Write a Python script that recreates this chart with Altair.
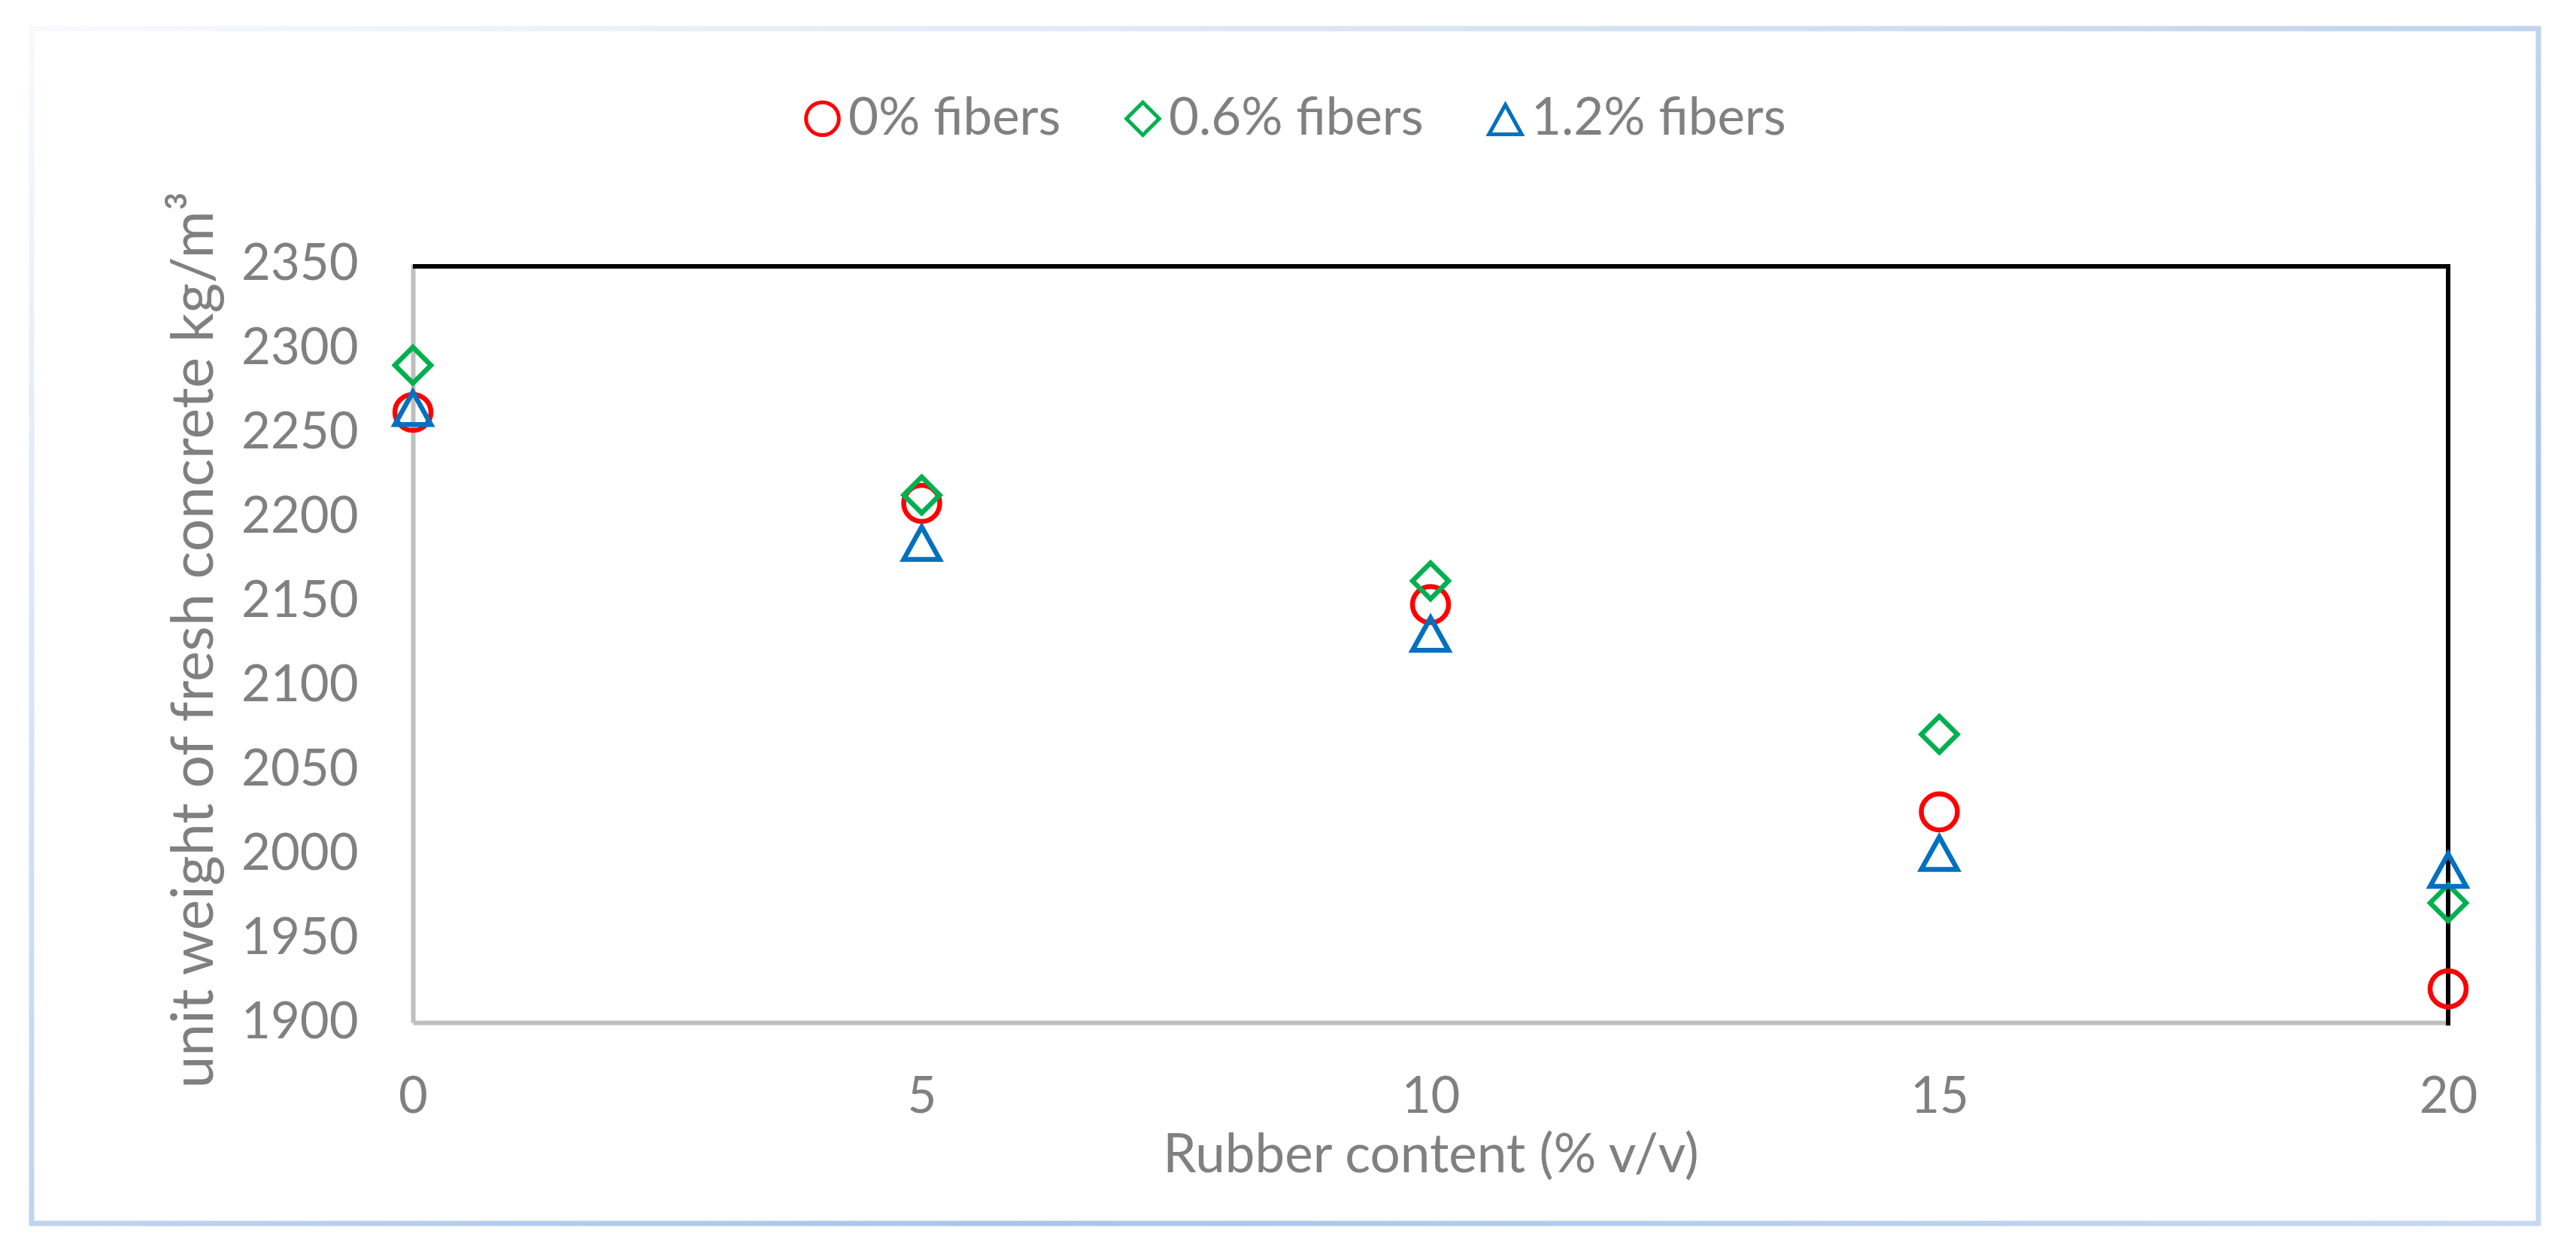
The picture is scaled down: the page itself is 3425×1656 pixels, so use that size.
import altair as alt
import pandas as pd

# ---- data ----
rubber = [0, 5, 10, 15, 20]
series = ["0% fibers", "0.6% fibers", "1.2% fibers"]
w_0 = [2262, 2208, 2148, 2025, 1920]
w_06 = [2290, 2213, 2162, 2071, 1971]
w_12 = [2265, 2185, 2131, 2001, 1991]
y_ticks = [1900, 1950, 2000, 2050, 2100, 2150, 2200, 2250, 2300, 2350]
x_ticks = [0, 5, 10, 15, 20]
colors = ["#FF0000", "#00B050", "#0070C0"]
shapes = ["circle", "diamond", "M0,-0.85L1,0.95L-1,0.95Z"]

rows = []
for name, vals in zip(series, [w_0, w_06, w_12]):
    for xv, yv in zip(rubber, vals):
        rows.append({"rubber": xv, "weight": yv, "series": name})
df = pd.DataFrame(rows)
one = pd.DataFrame({"k": [0]})

W, H = 2706, 1008
FONT = "Lato"
GRAY = "#808080"
FS = 67
TFS = 71

border_grad = alt.LinearGradient(
    gradient="linear",
    stops=[
        alt.GradientStop(color="#f7f9fd", offset=0),
        alt.GradientStop(color="#a9c5e9", offset=0.7),
        alt.GradientStop(color="#c6d9f1", offset=1),
    ],
    x1=0, y1=0, x2=1, y2=1,
)

frame = alt.Chart(one).mark_rect(fill="transparent", stroke=border_grad, strokeWidth=7).encode(
    x=alt.value(-507), x2=alt.value(2826), y=alt.value(-313), y2=alt.value(1275)
)

top_rule = alt.Chart(one).mark_rule(color="black", strokeWidth=6).encode(
    x=alt.value(0), x2=alt.value(W), y=alt.value(3)
)
right_rule = alt.Chart(one).mark_rule(color="black", strokeWidth=6).encode(
    x=alt.value(W), y=alt.value(0), y2=alt.value(H + 4)
)

leg = dict(
    title=None, orient="none", direction="horizontal",
    legendX=510, legendY=-228, padding=0,
    labelFont=FONT, labelFontSize=69, labelColor=GRAY, labelOffset=0, labelLimit=1000,
    symbolSize=1900, symbolStrokeWidth=5, columnPadding=74,
)

points = alt.Chart(df).mark_point(filled=False, size=2300, strokeWidth=6.5, opacity=1).encode(
    x=alt.X("rubber:Q", scale=alt.Scale(domain=[0, 20], nice=False),
            axis=alt.Axis(values=x_ticks, title="Rubber content (% v/v)", format="d",
                          labelBaseline="alphabetic", labelPadding=119, labelFlush=False,
                          titleBaseline="alphabetic", titleX=W / 2, titleY=198,
                          titleAlign="center", titleFontSize=TFS)),
    y=alt.Y("weight:Q", scale=alt.Scale(domain=[1900, 2350], nice=False, zero=False),
            axis=alt.Axis(values=y_ticks, title="unit weight of fresh concrete kg/m³", format="d",
                          labelPadding=73, labelBaseline="middle", labelFlush=False,
                          titleAngle=270, titleBaseline="alphabetic", titleFontSize=77,
                          titleX=-267, titleY=499, titleAlign="center")),
    color=alt.Color("series:N", scale=alt.Scale(domain=series, range=colors),
                    legend=alt.Legend(**leg)),
    shape=alt.Shape("series:N", scale=alt.Scale(domain=series, range=shapes),
                    legend=alt.Legend(**leg)),
)

chart = alt.layer(frame, top_rule, right_rule, points).properties(
    width=W, height=H,
    autosize=alt.AutoSizeParams(type="none"),
    padding={"left": 541, "top": 343, "right": 162, "bottom": 289},
    background="white",
).configure_view(stroke=None).configure_axis(
    domainColor="#BFBFBF", domainWidth=6, ticks=False, tickSize=0, grid=False,
    labelFont=FONT, labelFontSize=FS, labelColor=GRAY,
    titleFont=FONT, titleFontSize=TFS, titleColor=GRAY, titleFontWeight="normal",
)

chart.save("out.html", embed_options={"renderer": "svg", "actions": False})
